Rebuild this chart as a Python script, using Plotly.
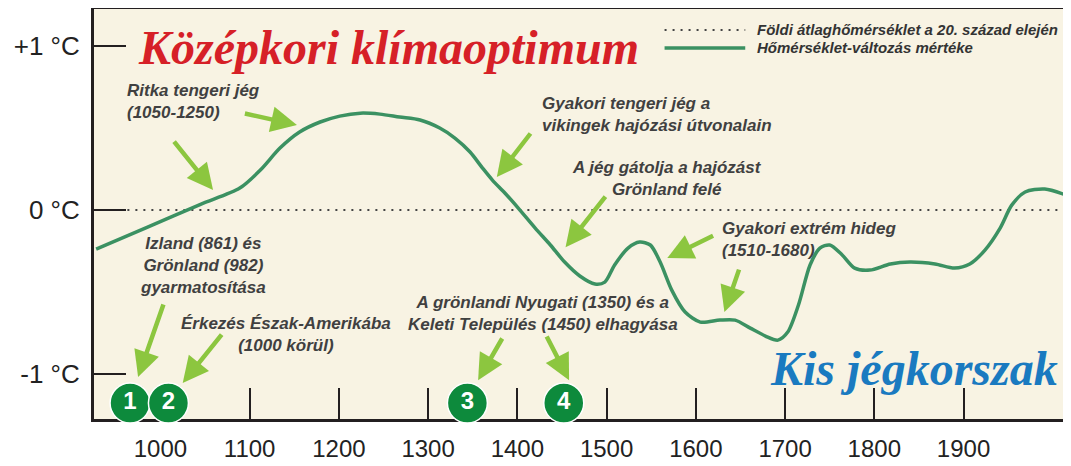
import plotly.graph_objects as go

# ---- data ----
years = [928, 985, 1045, 1089, 1112, 1134, 1156, 1179, 1201, 1224, 1246, 1268, 1291,
         1313, 1330, 1347, 1361, 1372, 1386, 1401, 1420, 1437, 1453, 1470, 1487, 1498, 1509,
         1524, 1537, 1549, 1560, 1573, 1588, 1605, 1627, 1644, 1661, 1678, 1692, 1703, 1715,
         1728, 1739, 1750, 1764, 1778, 1795, 1818, 1840, 1868, 1890, 1907, 1924, 1941, 1954,
         1969, 1991, 2015]
temps = [-0.238, -0.105, 0.035, 0.134, 0.244, 0.378, 0.476, 0.537, 0.573, 0.591, 0.585,
         0.567, 0.549, 0.500, 0.439, 0.354, 0.256, 0.183, 0.104, 0.012, -0.110, -0.213, -0.317,
         -0.402, -0.451, -0.439, -0.335, -0.232, -0.195, -0.213, -0.317, -0.488, -0.622, -0.683,
         -0.671, -0.671, -0.720, -0.768, -0.793, -0.744, -0.579, -0.335, -0.232, -0.213, -0.274,
         -0.354, -0.366, -0.329, -0.317, -0.329, -0.354, -0.329, -0.244, -0.110, 0.030, 0.110,
         0.128, 0.091]

baseline_years = [963, 2015]
baseline_temps = [0, 0]

x_ticks = [1000, 1100, 1200, 1300, 1400, 1500, 1600, 1700, 1800, 1900]
x_tick_labels = [str(v) for v in x_ticks]
y_ticks = [1, 0, -1]
y_tick_labels = ["+1 °C", "0 °C", "-1 °C"]

event_years = [966, 1009, 1344, 1452]
event_temps = [-1.177, -1.177, -1.177, -1.177]
event_labels = ["1", "2", "3", "4"]

legend_labels = ["Földi átlaghőmérséklet a 20. század elején", "Hőmérséklet-változás mértéke"]

# arrows: (tail_year, tail_temp, tip_year, tip_temp)
arrows = [
    (1093, 0.591, 1153, 0.518),
    (1014, 0.427, 1059, 0.122),
    (1416, 0.476, 1377, 0.201),
    (1500, 0.091, 1454, -0.226),
    (1621, -0.152, 1568, -0.293),
    (1649, -0.354, 1632, -0.622),
    (1004, -0.567, 975, -1.018),
    (1070, -0.750, 1025, -1.055),
    (1384, -0.774, 1356, -1.037),
    (1432, -0.762, 1458, -1.037),
]

# notes: (text, year, temp, anchor)
notes = [
    ("Ritka tengeri jég<br>(1050-1250)", 960, 0.659, "left"),
    ("Gyakori tengeri jég a<br>vikingek hajózási útvonalain", 1425, 0.582, "left"),
    ("A jég gátolja a hajózást<br>Grönland felé", 1568, 0.195, "center"),
    ("Gyakori extrém hideg<br>(1510-1680)", 1627, -0.177, "left"),
    ("Izland (861) és<br>Grönland (982)<br>gyarmatosítása", 1048, -0.341, "center"),
    ("Érkezés Észak-Amerikába<br>(1000 körül)", 1141, -0.756, "center"),
    ("A grönlandi Nyugati (1350) és a<br>Keleti Település (1450) elhagyása", 1429, -0.631, "center"),
]

GREEN = "#3b9162"
ARROW = "#8cc63f"
DARK = "#231f20"
NOTE_FONT = "Liberation Sans, Arial"
SERIF = "Liberation Serif, Times New Roman, serif"

fig = go.Figure()

fig.add_trace(go.Scatter(x=baseline_years, y=baseline_temps, mode="lines",
                         line=dict(color="#444444", width=2, dash="2px,6px"),
                         showlegend=False, hoverinfo="skip"))

fig.add_trace(go.Scatter(x=years, y=temps, mode="lines",
                         line=dict(color=GREEN, width=3.5, shape="spline", smoothing=0.8),
                         showlegend=False, hoverinfo="skip"))

fig.add_trace(go.Scatter(x=event_years, y=event_temps, mode="markers+text",
                         text=[f"<b>{t}</b>" for t in event_labels],
                         textposition="middle center",
                         textfont=dict(color="white", size=24, family="Liberation Sans, Arial"),
                         marker=dict(size=40, color="#0d8a3c", line=dict(color="white", width=1.5)),
                         cliponaxis=False, showlegend=False, hoverinfo="skip"))

annotations = []
for tx, ty, hx, hy in arrows:
    annotations.append(dict(x=hx, y=hy, ax=tx, ay=ty, xref="x", yref="y", axref="x", ayref="y",
                            text="", showarrow=True, arrowhead=2, arrowsize=1.15, arrowwidth=4.5,
                            arrowcolor=ARROW, standoff=0))

for text, nx, ny, anc in notes:
    annotations.append(dict(x=nx, y=ny, xref="x", yref="y", text=f"<b><i>{text}</i></b>",
                            showarrow=False, xanchor=anc, yanchor="middle", align=anc,
                            font=dict(family=NOTE_FONT, size=17, color="#404040")))

annotations.append(dict(x=1256, y=0.994, xref="x", yref="y",
                        text="<b><i>Középkori klímaoptimum</i></b>", showarrow=False,
                        xanchor="center", yanchor="middle",
                        font=dict(family=SERIF, size=48, color="#d62027")))
annotations.append(dict(x=1844, y=-0.963, xref="x", yref="y",
                        text="<b><i>Kis jégkorszak</i></b>", showarrow=False,
                        xanchor="center", yanchor="middle",
                        font=dict(family=SERIF, size=48, color="#1a7ac0")))

# legend (manual)
leg_y = [0.949, 0.905]
for lab, ly in zip(legend_labels, leg_y):
    annotations.append(dict(x=0.680, y=ly, xref="paper", yref="paper",
                            text=f"<b><i>{lab}</i></b>", showarrow=False,
                            xanchor="left", yanchor="middle",
                            font=dict(family=NOTE_FONT, size=15, color="#333333")))

shapes = [
    dict(type="line", xref="paper", yref="paper", x0=0.587, x1=0.670, y0=leg_y[0], y1=leg_y[0],
         line=dict(color="#444444", width=2, dash="2px,6px")),
    dict(type="line", xref="paper", yref="paper", x0=0.587, x1=0.670, y0=leg_y[1], y1=leg_y[1],
         line=dict(color=GREEN, width=3.5)),
    dict(type="line", xref="paper", yref="paper", x0=0.9985, x1=0.9985, y0=-0.004, y1=1.004,
         line=dict(color=DARK, width=3), layer="above"),
]

# page body has an 8px default margin, so the figure is drawn 8px in from the corner
fig.update_layout(
    width=1063, height=458,
    margin=dict(l=86, r=5, t=1, b=47),
    paper_bgcolor="white", plot_bgcolor="#f8f3e3",
    annotations=annotations, shapes=shapes,
    showlegend=False,
    xaxis=dict(range=[925.6, 2014.8], tickvals=x_ticks, ticktext=x_tick_labels,
               ticks="inside", ticklen=31, tickwidth=2, tickcolor=DARK,
               showline=True, mirror=True, linewidth=3, linecolor=DARK,
               showgrid=False, zeroline=False, layer="below traces",
               ticklabelstandoff=6, automargin=False,
               tickfont=dict(family="Liberation Sans, Arial", size=24, color="#222222")),
    yaxis=dict(range=[-1.274, 1.226], tickvals=y_ticks, ticktext=y_tick_labels,
               ticks="inside", ticklen=32, tickwidth=2, tickcolor=DARK,
               showline=True, mirror=True, linewidth=3, linecolor=DARK,
               showgrid=False, zeroline=False, layer="below traces",
               ticklabelstandoff=6, automargin=False,
               tickfont=dict(family="Liberation Sans, Arial", size=26, color="#222222")),
)

fig.write_html("out.html")
